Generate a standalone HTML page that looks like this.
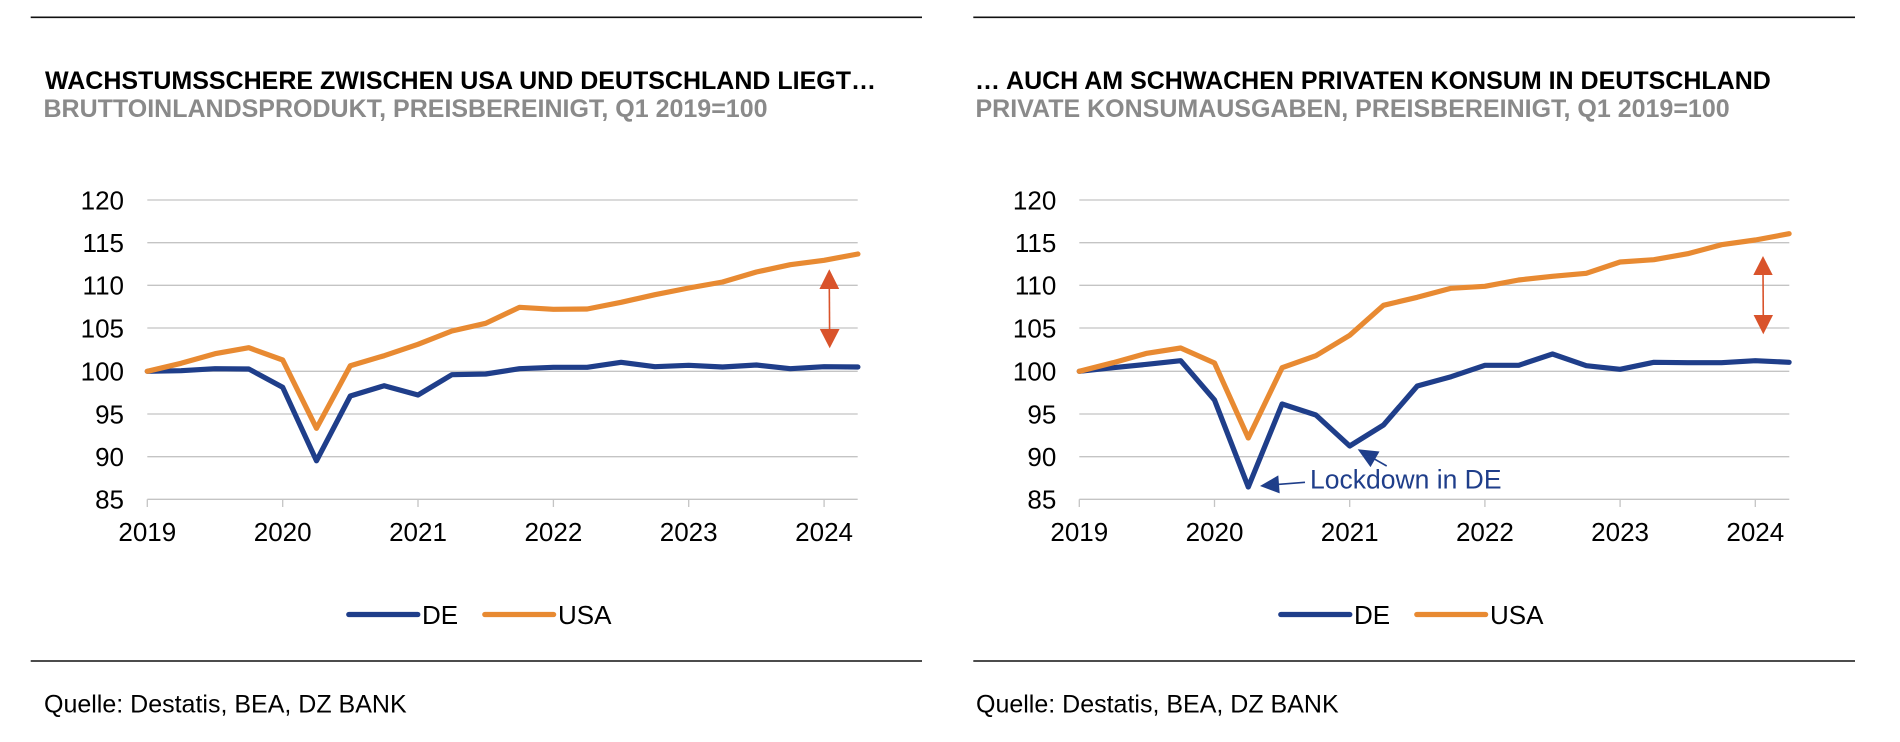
<!DOCTYPE html>
<html>
<head>
<meta charset="utf-8">
<style>
html,body{margin:0;padding:0;background:#fff;}
svg{display:block;}
text{font-family:"Liberation Sans",Arial,sans-serif;}
.t{font-size:25px;font-weight:bold;fill:#000;}
.s{font-size:25px;font-weight:bold;fill:#8a8a8a;}
.ax{font-size:26px;fill:#000;}
.lg{font-size:26px;fill:#000;}
.src{font-size:25px;fill:#000;}
.grid{stroke:#c4c4c4;stroke-width:1.3;}
.de{fill:none;stroke:#1f3e8a;stroke-width:5.2;stroke-linejoin:round;stroke-linecap:round;}
.us{fill:none;stroke:#e88a32;stroke-width:5.2;stroke-linejoin:round;stroke-linecap:round;}
</style>
</head>
<body>
<svg width="1900" height="742" viewBox="0 0 1900 742" xmlns="http://www.w3.org/2000/svg">
<!-- rules -->
<line x1="30.7" y1="17.3" x2="922" y2="17.3" stroke="#111" stroke-width="1.6"/>
<line x1="973.3" y1="17.3" x2="1855" y2="17.3" stroke="#111" stroke-width="1.6"/>
<line x1="30.7" y1="661" x2="922" y2="661" stroke="#111" stroke-width="1.6"/>
<line x1="973.3" y1="661" x2="1855" y2="661" stroke="#111" stroke-width="1.6"/>

<!-- LEFT PANEL -->
<text class="t" x="45" y="89">WACHSTUMSSCHERE ZWISCHEN USA UND DEUTSCHLAND LIEGT…</text>
<text class="s" x="43.5" y="117">BRUTTOINLANDSPRODUKT, PREISBEREINIGT, Q1 2019=100</text>

<g class="grid">
<line x1="147.3" y1="200" x2="857.7" y2="200"/>
<line x1="147.3" y1="242.7" x2="857.7" y2="242.7"/>
<line x1="147.3" y1="285.3" x2="857.7" y2="285.3"/>
<line x1="147.3" y1="328" x2="857.7" y2="328"/>
<line x1="147.3" y1="371.3" x2="857.7" y2="371.3"/>
<line x1="147.3" y1="414" x2="857.7" y2="414"/>
<line x1="147.3" y1="456.7" x2="857.7" y2="456.7"/>
<line x1="147.3" y1="499.3" x2="857.7" y2="499.3"/>
<line x1="147.3" y1="499.3" x2="147.3" y2="507"/>
<line x1="282.7" y1="499.3" x2="282.7" y2="507"/>
<line x1="418" y1="499.3" x2="418" y2="507"/>
<line x1="553.4" y1="499.3" x2="553.4" y2="507"/>
<line x1="688.7" y1="499.3" x2="688.7" y2="507"/>
<line x1="824.1" y1="499.3" x2="824.1" y2="507"/>
</g>
<g class="ax" text-anchor="end">
<text x="124" y="209.3">120</text>
<text x="124" y="252">115</text>
<text x="124" y="294.6">110</text>
<text x="124" y="337.3">105</text>
<text x="124" y="380.6">100</text>
<text x="124" y="423.3">95</text>
<text x="124" y="466">90</text>
<text x="124" y="508.6">85</text>
</g>
<g class="ax" text-anchor="middle">
<text x="147.3" y="541">2019</text>
<text x="282.7" y="541">2020</text>
<text x="418" y="541">2021</text>
<text x="553.4" y="541">2022</text>
<text x="688.7" y="541">2023</text>
<text x="824.1" y="541">2024</text>
</g>
<polyline class="de" points="147.3,371.3 181.1,370.7 215,368.7 248.8,369 282.7,387.3 316.5,460.8 350.3,396 384.2,385.7 418,395 451.9,374.7 485.7,374 519.5,368.7 553.4,367.3 587.2,367.3 621.1,362.3 654.9,366.7 688.7,365.3 722.6,367 756.4,365 790.3,368.7 824.1,366.7 857.9,367"/>
<polyline class="us" points="147.3,371.3 181.1,363.3 215,353.7 248.8,347.7 282.7,360 316.5,428.3 350.3,365.7 384.2,355.7 418,344.3 451.9,331 485.7,323.3 519.5,307.3 553.4,309.3 587.2,309 621.1,302.3 654.9,294.7 688.7,288 722.6,282 756.4,272 790.3,264.7 824.1,260.3 857.9,254"/>
<!-- gap arrow left -->
<line x1="829.3" y1="285" x2="829.6" y2="333" stroke="#d9532b" stroke-width="1.6"/>
<polygon points="829.3,269.3 819.4,289 839.2,289" fill="#d9532b"/>
<polygon points="819.8,329 839.6,329 829.7,348.3" fill="#d9532b"/>

<!-- legend left -->
<line x1="348.8" y1="614.5" x2="417.8" y2="614.5" stroke="#1f3e8a" stroke-width="5.3" stroke-linecap="round"/>
<text class="lg" x="422" y="624">DE</text>
<line x1="484.8" y1="614.5" x2="553.6" y2="614.5" stroke="#e88a32" stroke-width="5.3" stroke-linecap="round"/>
<text class="lg" x="558" y="624">USA</text>

<text class="src" x="44" y="712.7">Quelle: Destatis, BEA, DZ BANK</text>

<!-- RIGHT PANEL -->
<text class="t" x="975" y="89">… AUCH AM SCHWACHEN PRIVATEN KONSUM IN DEUTSCHLAND</text>
<text class="s" x="975.5" y="117">PRIVATE KONSUMAUSGABEN, PREISBEREINIGT, Q1 2019=100</text>

<g class="grid">
<line x1="1079.3" y1="200" x2="1789.3" y2="200"/>
<line x1="1079.3" y1="242.7" x2="1789.3" y2="242.7"/>
<line x1="1079.3" y1="285.3" x2="1789.3" y2="285.3"/>
<line x1="1079.3" y1="328" x2="1789.3" y2="328"/>
<line x1="1079.3" y1="371.3" x2="1789.3" y2="371.3"/>
<line x1="1079.3" y1="414" x2="1789.3" y2="414"/>
<line x1="1079.3" y1="456.7" x2="1789.3" y2="456.7"/>
<line x1="1079.3" y1="499.3" x2="1789.3" y2="499.3"/>
<line x1="1079.3" y1="499.3" x2="1079.3" y2="507"/>
<line x1="1214.5" y1="499.3" x2="1214.5" y2="507"/>
<line x1="1349.7" y1="499.3" x2="1349.7" y2="507"/>
<line x1="1484.9" y1="499.3" x2="1484.9" y2="507"/>
<line x1="1620.1" y1="499.3" x2="1620.1" y2="507"/>
<line x1="1755.3" y1="499.3" x2="1755.3" y2="507"/>
</g>
<g class="ax" text-anchor="end">
<text x="1056.3" y="209.3">120</text>
<text x="1056.3" y="252">115</text>
<text x="1056.3" y="294.6">110</text>
<text x="1056.3" y="337.3">105</text>
<text x="1056.3" y="380.6">100</text>
<text x="1056.3" y="423.3">95</text>
<text x="1056.3" y="466">90</text>
<text x="1056.3" y="508.6">85</text>
</g>
<g class="ax" text-anchor="middle">
<text x="1079.3" y="541">2019</text>
<text x="1214.5" y="541">2020</text>
<text x="1349.7" y="541">2021</text>
<text x="1484.9" y="541">2022</text>
<text x="1620.1" y="541">2023</text>
<text x="1755.3" y="541">2024</text>
</g>
<polyline class="de" points="1079.3,371.3 1113.1,367.7 1146.9,364.3 1180.7,360.7 1214.5,400 1248.3,487 1282.1,404 1315.9,415 1349.7,446 1383.5,425 1417.3,386 1451.1,376.7 1484.9,365.3 1518.7,365.3 1552.5,354 1586.3,365.7 1620.1,369.3 1653.9,362.3 1687.7,362.7 1721.5,362.7 1755.3,360.7 1789.1,362.3"/>
<polyline class="us" points="1079.3,371.3 1113.1,362.7 1146.9,353.3 1180.7,348 1214.5,363 1248.3,438 1282.1,367.7 1315.9,355.7 1349.7,335.3 1383.5,305.3 1417.3,297.3 1451.1,288.3 1484.9,286.3 1518.7,280 1552.5,276.3 1586.3,273.3 1620.1,262 1653.9,259.7 1687.7,253.7 1721.5,244.7 1755.3,240 1789.1,233.7"/>
<!-- gap arrow right -->
<line x1="1763" y1="271" x2="1763.3" y2="319" stroke="#d9532b" stroke-width="1.6"/>
<polygon points="1763,256 1753.3,275 1772.7,275" fill="#d9532b"/>
<polygon points="1753.6,315 1773,315 1763.3,334.3" fill="#d9532b"/>

<!-- Lockdown annotation -->
<text x="1310" y="488.3" style="font-size:26.5px;fill:#1f3e8a;">Lockdown in DE</text>
<line x1="1305" y1="482.3" x2="1276" y2="484.6" stroke="#1f3e8a" stroke-width="1.6"/>
<polygon points="1260,486 1279.7,493.4 1278.3,475.4" fill="#1f3e8a"/>
<line x1="1386.7" y1="466" x2="1373" y2="458.2" stroke="#1f3e8a" stroke-width="1.6"/>
<polygon points="1357.7,449.3 1379.5,451.5 1370.5,467.1" fill="#1f3e8a"/>

<!-- legend right -->
<line x1="1280.8" y1="614.5" x2="1349.8" y2="614.5" stroke="#1f3e8a" stroke-width="5.3" stroke-linecap="round"/>
<text class="lg" x="1354" y="624">DE</text>
<line x1="1416.8" y1="614.5" x2="1485.6" y2="614.5" stroke="#e88a32" stroke-width="5.3" stroke-linecap="round"/>
<text class="lg" x="1490" y="624">USA</text>

<text class="src" x="976" y="712.7">Quelle: Destatis, BEA, DZ BANK</text>
</svg>
</body>
</html>
